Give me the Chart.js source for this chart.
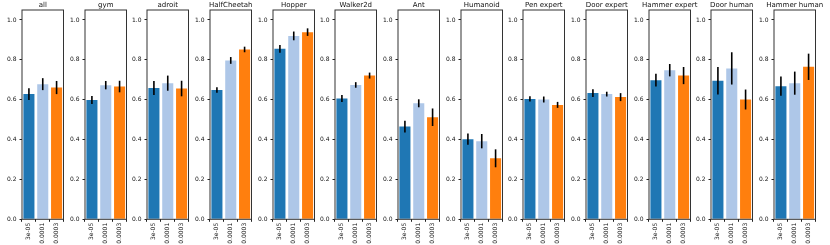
<!DOCTYPE html>
<html>
<head>
<meta charset="utf-8">
<script src="https://cdn.jsdelivr.net/npm/chart.js@4"></script>
<style>
  html, body { margin: 0; padding: 0; background: #fff; }
  #wrap { position: relative; width: 830px; height: 245px; overflow: hidden; }
  #wrap canvas { position: absolute; top: 0; }
</style>
</head>
<body>
<div id="wrap"></div>
<script>
// panel titles and learning-rate categories
const panels = ['all', 'gym', 'adroit', 'HalfCheetah', 'Hopper', 'Walker2d', 'Ant',
    'Humanoid', 'Pen expert', 'Door expert', 'Hammer expert', 'Door human', 'Hammer human'];
const lrLabels = ['3e-05', '0.0001', '0.0003'];

// mean normalized score per panel, one array per learning rate
const meanLr3e5 = [0.628, 0.599, 0.659, 0.649, 0.855, 0.606, 0.465, 0.402, 0.604, 0.633, 0.698, 0.695, 0.668];
const meanLr1e4 = [0.678, 0.673, 0.683, 0.797, 0.920, 0.674, 0.582, 0.392, 0.601, 0.628, 0.748, 0.757, 0.683];
const meanLr3e4 = [0.661, 0.666, 0.656, 0.852, 0.939, 0.721, 0.512, 0.306, 0.574, 0.613, 0.721, 0.601, 0.765];

// error bar half-lengths
const errLr3e5 = [0.030, 0.020, 0.035, 0.014, 0.019, 0.017, 0.030, 0.028, 0.013, 0.020, 0.032, 0.069, 0.048];
const errLr1e4 = [0.030, 0.021, 0.038, 0.017, 0.022, 0.014, 0.020, 0.036, 0.015, 0.012, 0.031, 0.081, 0.058];
const errLr3e4 = [0.033, 0.029, 0.039, 0.014, 0.019, 0.015, 0.044, 0.045, 0.015, 0.020, 0.043, 0.050, 0.066];

const yTicks = [0, 0.2, 0.4, 0.6, 0.8, 1.0];
const barColors = ['#1f77b4', '#aec7e8', '#ff7f0e'];

const FONT = 'DejaVu Sans';

// draws error bars, frame and the panel title
const panelDecor = {
    id: 'panelDecor',
    afterDatasetsDraw(chart, args, opts) {
        const ctx = chart.ctx;
        const meta = chart.getDatasetMeta(0);
        const ys = chart.scales.y;
        ctx.save();
        ctx.strokeStyle = '#000';
        ctx.lineWidth = 1.6;
        meta.data.forEach((bar, k) => {
            const v = chart.data.datasets[0].data[k];
            const e = opts.errs[k];
            ctx.beginPath();
            ctx.moveTo(bar.x, ys.getPixelForValue(v - e));
            ctx.lineTo(bar.x, ys.getPixelForValue(v + e));
            ctx.stroke();
        });
        const a = chart.chartArea;
        ctx.strokeStyle = '#333';
        ctx.lineWidth = 1;
        ctx.strokeRect(a.left, a.top, a.right - a.left, a.bottom - a.top);
        ctx.fillStyle = '#111';
        ctx.font = '7px "' + FONT + '"';
        ctx.textAlign = 'center';
        ctx.textBaseline = 'bottom';
        ctx.fillText(opts.title, (a.left + a.right) / 2, a.top - 1.5);
        ctx.restore();
    }
};

const wrap = document.getElementById('wrap');

panels.forEach((name, i) => {
    // canvas is wider than the axes so long titles are not clipped
    const cv = document.createElement('canvas');
    cv.width = 84;
    cv.height = 245;
    cv.style.left = Math.round(i * 62.67) + 'px';
    wrap.appendChild(cv);

    new Chart(cv.getContext('2d'), {
        type: 'bar',
        data: {
            labels: lrLabels,
            datasets: [{
                data: [meanLr3e5[i], meanLr1e4[i], meanLr3e4[i]],
                backgroundColor: barColors,
                borderWidth: 0,
                categoryPercentage: 1.0,
                barPercentage: 0.8
            }]
        },
        options: {
            responsive: false,
            animation: false,
            layout: { padding: { top: 10, left: 0, right: 20.5, bottom: 0 } },
            plugins: {
                legend: { display: false },
                tooltip: { enabled: false },
                panelDecor: {
                    title: name,
                    errs: [errLr3e5[i], errLr1e4[i], errLr3e4[i]]
                }
            },
            scales: {
                x: {
                    offset: true,
                    border: { display: false },
                    grid: { drawOnChartArea: false, drawTicks: true, tickLength: 2.5, color: '#222' },
                    ticks: {
                        autoSkip: false,
                        maxRotation: 90,
                        minRotation: 90,
                        padding: 1,
                        color: '#111',
                        font: { family: FONT, size: 6 }
                    },
                    afterFit(s) { s.height = 25.7; }
                },
                y: {
                    min: 0,
                    max: 1.05,
                    border: { display: false },
                    grid: { drawOnChartArea: false, drawTicks: true, tickLength: 2.5, color: '#222' },
                    ticks: {
                        padding: 3,
                        color: '#111',
                        font: { family: FONT, size: 6 },
                        callback: v => v.toFixed(1)
                    },
                    afterBuildTicks(s) { s.ticks = yTicks.map(v => ({ value: v })); },
                    afterFit(s) { s.width = 22; }
                }
            }
        },
        plugins: [panelDecor]
    });
});
</script>
</body>
</html>
